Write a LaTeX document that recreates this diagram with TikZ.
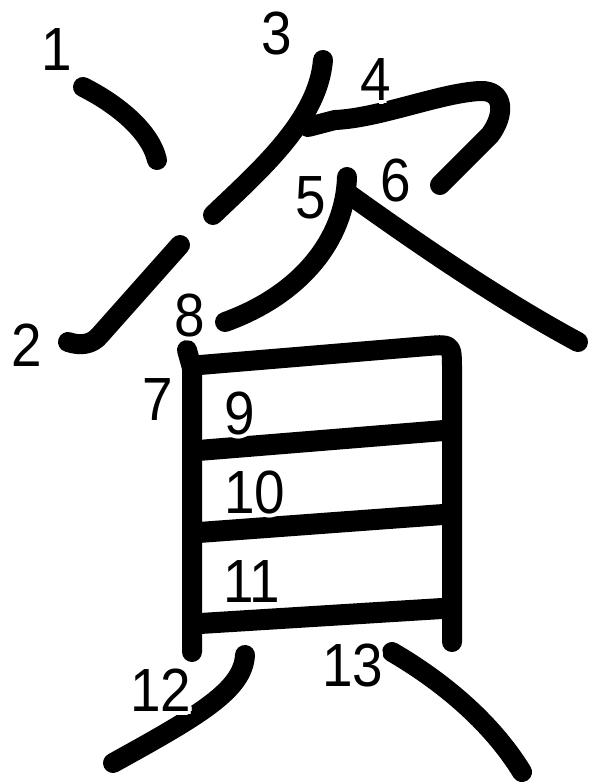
\documentclass[tikz,border=0pt]{standalone}
\usepackage{fontspec}
\setmainfont{Liberation Sans}
\newfontfamily\numfont[FakeStretch=0.9]{Liberation Sans}
\tikzset{
  strk/.style={draw=black, line width=20pt, line cap=round, line join=round},
  bar/.style={draw=black, line width=21pt},
  numlbl/.style={font=\numfont\fontsize{61}{61}\selectfont, inner sep=0pt, text=black},
  halo/.style={numlbl, text=white}
}

\begin{document}
\begin{tikzpicture}[x=1pt, y=-1pt]
  \useasboundingbox[fill=white] (0,0) rectangle (590,784);

  % strokes of the radical
  \draw[strk] (83,87) .. controls (115,103) and (150,130) .. (157,160);
  \draw[strk] (180,245) -- (100,335) .. controls (92,345) and (80,346) .. (68,342);
  \draw[strk] (323,60) .. controls (318,120) and (260,170) .. (213,215);
  \draw[strk] (308,127) -- (335,120) .. controls (380,118) and (440,93) .. (480,91)
              .. controls (505,90) and (505,115) .. (490,135) -- (440,185);
  \draw[strk] (347,177) .. controls (345,240) and (300,295) .. (225,322);
  \draw[strk] (350,195) .. controls (420,245) and (500,300) .. (578,342);

  % strokes of the shell
  \draw[strk] (187,350) -- (192,368) -- (192,652);
  \draw[strk] (200,365) -- (428,346) .. controls (452,344) .. (452,370) -- (452,642);
  \draw[bar] (192,451) -- (450,430);
  \draw[bar] (192,533) -- (450,514);
  \draw[bar] (192,624) -- (450,608);
  \draw[strk] (245,655) .. controls (243,690) and (200,715) .. (113,763);
  \draw[strk] (392,652) .. controls (440,680) and (490,720) .. (522,772);

  % numbers, each with a white rim
  \newcommand{\strokenum}[3]{%
    \foreach \dx/\dy in {4/0,-4/0,0/4,0/-4,3/3,3/-3,-3/3,-3/-3}
      { \node[halo, xshift=\dx pt, yshift=\dy pt] at (#2) {#3}; }
    \node[numlbl] (#1) at (#2) {#3};}

  \strokenum{n1}{57,50}{1}
  \strokenum{n2}{27,345}{2}
  \strokenum{n3}{277,34}{3}
  \strokenum{n4}{376,80}{4}
  \strokenum{n5}{311,198}{5}
  \strokenum{n6}{396,181}{6}
  \strokenum{n7}{158,400}{7}
  \strokenum{n8}{190,315}{8}
  \strokenum{n9}{240,413}{9}
  \strokenum{n10}{255,492}{10}
  \strokenum{n11}{252,582}{11}
  \strokenum{n12}{161,690}{12}
  \strokenum{n13}{353,665}{13}
\end{tikzpicture}
\end{document}
